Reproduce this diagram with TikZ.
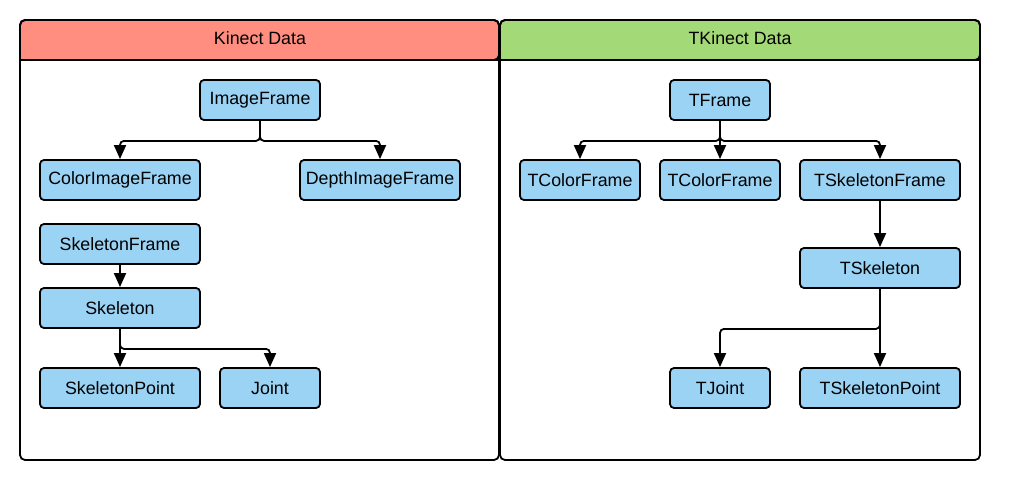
\documentclass[tikz,border=0pt]{standalone}
\usepackage{fontspec}
\setmainfont{Liberation Sans}
\usetikzlibrary{arrows.meta}
\definecolor{hdrred}{RGB}{255,142,128}
\definecolor{hdrgreen}{RGB}{164,217,119}
\definecolor{boxblue}{RGB}{154,211,244}
\tikzset{
  box/.style={draw=black, line width=1.8pt, fill=boxblue, rounded corners=4pt,
    minimum height=40pt, inner sep=0pt, font=\fontsize{17.8}{20}\selectfont},
  arr/.style={draw=black, line width=1.8pt, rounded corners=4pt,
    -{Triangle[length=14pt,width=12pt]}},
  panel/.style={draw=black, line width=1.8pt, rounded corners=5pt},
  title/.style={font=\fontsize{17.8}{20}\selectfont, inner sep=0pt}
}
\begin{document}
\begin{tikzpicture}[x=1pt,y=-1pt]
\useasboundingbox (0,0) rectangle (1012,487);
% panels
\fill[white] (0,0) rectangle (1012,487);
\filldraw[fill=hdrred, line width=1.8pt, rounded corners=5pt] (20,60) -- (20,20) -- (499,20) -- (499,60) [sharp corners] -- cycle;
\filldraw[fill=hdrgreen, line width=1.8pt, rounded corners=5pt] (500,60) -- (500,20) -- (980,20) -- (980,60) [sharp corners] -- cycle;
\draw[panel] (20,20) rectangle (499,460);
\draw[panel] (500,20) rectangle (980,460);
\draw[line width=1.8pt] (20,60) -- (499,60);
\draw[line width=1.8pt] (500,60) -- (980,60);
\node[title] (t1) at (260,38) {Kinect Data};
\node[title] (t2) at (740,38) {TKinect Data};
% left nodes
\node[box, minimum width=120pt] (img) at (260,100) {ImageFrame};
\node[box, minimum width=160pt] (cif) at (120,180) {ColorImageFrame};
\node[box, minimum width=160pt] (dif) at (380,180) {DepthImageFrame};
\node[box, minimum width=160pt] (skf) at (120,244) {SkeletonFrame};
\node[box, minimum width=160pt] (sk) at (120,308) {Skeleton};
\node[box, minimum width=160pt] (skp) at (120,388) {SkeletonPoint};
\node[box, minimum width=100pt] (jt) at (270,388) {Joint};
% right nodes
\node[box, minimum width=100pt] (tf) at (720,100) {TFrame};
\node[box, minimum width=120pt] (tc1) at (580,180) {TColorFrame};
\node[box, minimum width=120pt] (tc2) at (720,180) {TColorFrame};
\node[box, minimum width=160pt] (tsf) at (880,180) {TSkeletonFrame};
\node[box, minimum width=160pt] (tsk) at (880,268) {TSkeleton};
\node[box, minimum width=100pt] (tj) at (720,388) {TJoint};
\node[box, minimum width=160pt] (tsp) at (880,388) {TSkeletonPoint};
% left connectors
\draw[arr] (img.south) -- ++(0,20) -| (cif.north);
\draw[arr] (img.south) -- ++(0,20) -| (dif.north);
\draw[arr] (skf.south) -- (sk.north);
\draw[arr] (sk.south) -- (skp.north);
\draw[arr] (sk.south) -- ++(0,20) -| (jt.north);
% right connectors
\draw[arr] (tf.south) -- ++(0,20) -| (tc1.north);
\draw[arr] (tf.south) -- (tc2.north);
\draw[arr] (tf.south) -- ++(0,20) -| (tsf.north);
\draw[arr] (tsf.south) -- (tsk.north);
\draw[arr] (tsk.south) -- (tsp.north);
\draw[arr] (tsk.south) -- ++(0,40) -| (tj.north);
\end{tikzpicture}
\end{document}
